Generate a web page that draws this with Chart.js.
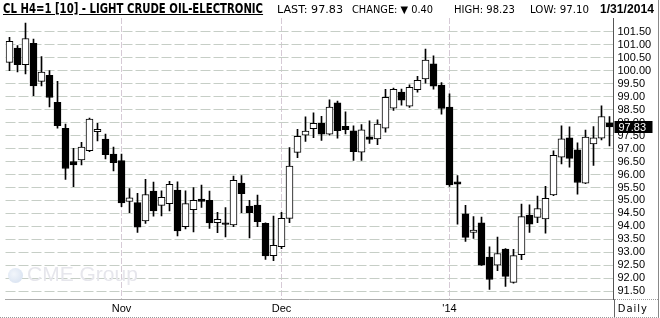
<!DOCTYPE html>
<html>
<head>
<meta charset="utf-8">
<script src="https://cdn.jsdelivr.net/npm/chart.js@4.4.1/dist/chart.umd.min.js"></script>
<style>
  body { margin: 0; background: #fff; }
  #wrap { position: relative; width: 660px; height: 318px; overflow: hidden; font-family: "DejaVu Sans", Verdana, sans-serif; }
  #wrap canvas { position: absolute; left: 0; top: 0; }
  .hd { position: absolute; white-space: nowrap; color: #000; transform-origin: 0 0; }
  .title { left: 3px; top: 0; font: bold 14px/16px "Liberation Sans Narrow", "DejaVu Sans Condensed", Arial, sans-serif; text-decoration: underline; }
  .stat { top: 4px; font-size: 10px; line-height: 12px; }
  .date { left: 600px; top: 2px; font: bold 12px/14px "Liberation Sans", Arial, sans-serif; }
  #frame { position: absolute; left: 0; top: 0; width: 658px; height: 317px; border-right: 1px solid #888; border-bottom: 1px dotted #999; pointer-events: none; }
  #daily { position: absolute; left: 614px; top: 299px; width: 44px; height: 18px; border-left: 1px solid #666; border-top: 1px dotted #999; font-size: 10px; line-height: 18px; text-align: right; letter-spacing: 1px; box-sizing: border-box; }
  #daily span { margin-right: 10px; }
  #wm { position: absolute; left: 27px; top: 262px; color: #e6e6ec; font: 21px/24px "Liberation Sans", Arial, sans-serif; }
  #globe { position: absolute; left: 8px; top: 268px; width: 15px; height: 15px; border-radius: 50%; background: radial-gradient(circle at 40% 40%, #f2f6fb, #d3deef); }
</style>
</head>
<body>
<div id="wrap">
  <canvas id="c" width="660" height="318"></canvas>
  <div id="globe"></div>
  <div id="wm">CME Group</div>
  <span class="hd title" data-w="260">CL H4=1 [10] - LIGHT CRUDE OIL-ELECTRONIC</span>
  <span class="hd stat" style="left:277px" data-w="66">LAST: 97.83</span>
  <span class="hd stat" style="left:352px" data-w="81">CHANGE: ▼ 0.40</span>
  <span class="hd stat" style="left:454px" data-w="61">HIGH: 98.23</span>
  <span class="hd stat" style="left:530px" data-w="59">LOW: 97.10</span>
  <span class="hd date" data-w="54">1/31/2014</span>
  <div id="daily"><span>Daily</span></div>
  <div id="frame"></div>
</div>
<script>
// trading days, Oct 14 2013 - Jan 31 2014
const dates = ['10/14','10/15','10/16','10/17','10/18','10/21','10/22','10/23','10/24','10/25',
  '10/28','10/29','10/30','10/31','11/01','11/04','11/05','11/06','11/07','11/08',
  '11/11','11/12','11/13','11/14','11/15','11/18','11/19','11/20','11/21','11/22',
  '11/25','11/26','11/27','11/29','12/02','12/03','12/04','12/05','12/06','12/09',
  '12/10','12/11','12/12','12/13','12/16','12/17','12/18','12/19','12/20','12/23',
  '12/24','12/26','12/27','12/30','12/31','01/02','01/03','01/06','01/07','01/08',
  '01/09','01/10','01/13','01/14','01/15','01/16','01/17','01/21','01/22','01/23',
  '01/24','01/27','01/28','01/29','01/30','01/31'];

const opens = [100.31,100.86,100.22,101.05,99.58,99.81,98.78,97.78,96.50,96.56,
  96.92,97.65,97.36,96.78,96.53,94.96,94.92,94.21,95.36,94.81,
  94.88,95.40,93.99,94.65,95.05,95.01,94.15,94.14,94.06,95.67,
  94.78,94.82,94.12,92.88,93.22,94.31,96.85,97.51,97.76,97.97,
  97.55,98.76,97.85,97.68,96.86,97.45,97.37,97.78,98.55,99.17,
  98.63,99.26,99.68,100.26,99.44,98.59,95.72,94.49,93.77,94.14,
  92.82,92.51,93.13,91.85,92.91,94.44,94.35,94.29,95.21,96.67,
  97.41,96.95,95.67,97.18,97.40,97.99];
const highs = [101.28,100.96,101.82,101.21,100.54,100.00,99.58,97.94,97.01,97.24,
  98.17,97.97,97.55,97.05,96.78,95.46,95.27,95.81,95.71,95.37,
  95.74,95.72,95.37,95.50,95.59,95.36,94.54,94.73,95.94,95.96,
  95.01,95.21,94.14,94.40,94.54,97.03,97.74,98.22,98.37,98.24,
  98.87,98.82,98.41,97.87,97.92,98.06,98.10,99.28,99.32,99.29,
  99.45,99.78,100.82,100.56,99.54,99.10,95.96,94.81,94.38,94.36,
  93.22,93.59,93.15,93.12,94.86,94.83,95.17,95.54,96.91,97.87,
  97.83,97.22,97.71,97.84,98.64,98.23];
const lows = [99.99,99.95,99.87,99.03,99.41,98.60,97.78,95.81,95.53,96.37,
  96.88,97.29,96.60,96.14,94.76,94.53,93.77,94.12,94.40,94.41,
  94.60,93.64,93.91,93.79,94.73,93.92,93.76,93.60,93.99,94.53,
  93.56,93.99,92.73,92.68,93.15,94.15,96.65,97.27,97.42,97.31,
  97.51,97.40,97.56,96.54,96.54,97.19,97.15,97.63,98.46,98.67,
  98.58,99.17,99.51,99.28,98.32,95.54,94.09,93.42,93.54,92.50,
  91.58,92.30,91.69,91.82,92.72,93.77,94.15,93.74,95.18,96.41,
  96.28,95.24,95.65,96.35,97.33,97.10];
const closes = [101.12,100.22,101.23,99.41,99.94,98.96,97.88,96.23,96.37,97.05,
  98.13,97.74,96.76,96.45,94.91,95.10,93.97,95.23,94.60,95.12,
  95.62,93.83,94.88,95.01,94.96,94.14,94.27,94.08,95.77,95.26,
  94.53,94.18,92.87,93.27,94.31,96.32,97.47,97.67,97.97,97.55,
  98.59,97.69,97.72,96.88,97.72,97.35,97.94,98.97,99.28,98.86,
  99.35,99.62,100.40,99.40,98.54,95.60,95.63,93.58,93.86,92.51,
  91.96,92.96,92.08,92.88,94.38,94.09,94.69,95.08,96.74,97.37,
  96.62,95.69,97.44,97.41,98.23,97.83];

const monthTicks = ['11/01', '12/02', '01/02'];
const monthLabels = ['Nov', 'Dec', "'14"];
const priceTicks = [91.5,92,92.5,93,93.5,94,94.5,95,95.5,96,96.5,97,97.5,98,98.5,99,99.5,100,100.5,101,101.5];
const lastPrice = 97.83;

const bodies = dates.map((d, i) => [opens[i], closes[i]]);
const wicks = dates.map((d, i) => [lows[i], highs[i]]);
const bodyColors = dates.map((d, i) => closes[i] >= opens[i] ? '#fff' : '#000');

const lastBox = {
  id: 'lastBox',
  afterDraw(chart) {
    const y = chart.scales.y;
    const py = Math.round(y.getPixelForValue(lastPrice));
    const ctx = chart.ctx;
    ctx.save();
    ctx.fillStyle = '#000';
    ctx.fillRect(y.left + 1, py - 6, 38, 12);
    ctx.fillStyle = '#fff';
    ctx.font = '11px "Liberation Sans", Arial, sans-serif';
    ctx.textBaseline = 'middle';
    ctx.fillText(lastPrice.toFixed(2), y.left + 5, py + 1);
    ctx.restore();
  }
};

new Chart(document.getElementById('c'), {
  type: 'bar',
  data: {
    labels: dates,
    datasets: [
      {
        data: bodies,
        backgroundColor: bodyColors,
        borderColor: '#000',
        borderWidth: 1,
        borderSkipped: false,
        barThickness: 7,
        grouped: false,
        order: 0
      },
      {
        data: wicks,
        backgroundColor: '#000',
        borderWidth: 0,
        barThickness: 1,
        grouped: false,
        order: 1
      }
    ]
  },
  options: {
    responsive: false,
    animation: false,
    devicePixelRatio: 1,
    layout: { padding: { left: 5.5, top: 18, right: 0, bottom: 0.5 } },
    plugins: { legend: { display: false }, tooltip: { enabled: false } },
    scales: {
      x: {
        offset: true,
        afterFit: s => { s.height = 18; },
        afterBuildTicks: s => { s.ticks = monthTicks.map(m => ({ value: dates.indexOf(m) })); },
        ticks: {
          autoSkip: false,
          maxRotation: 0,
          padding: 3,
          color: '#000',
          font: { family: '"Liberation Sans", Arial, sans-serif', size: 11 },
          callback: (v, i) => monthLabels[i]
        },
        grid: { offset: false, drawTicks: false, color: '#d6cad6' },
        border: { display: true, color: '#aaa', dash: [6, 2] }
      },
      y: {
        position: 'right',
        min: 91.19,
        max: 102.02,
        afterFit: s => { s.width = 46.5; },
        afterBuildTicks: s => { s.ticks = priceTicks.map(v => ({ value: v })); },
        ticks: {
          autoSkip: false,
          padding: 4,
          color: '#000',
          font: { family: '"Liberation Sans", Arial, sans-serif', size: 11 },
          callback: v => Number(v).toFixed(2)
        },
        grid: { drawTicks: false, color: '#c6cec6' },
        border: { display: true, color: '#555', dash: [10, 3] }
      }
    }
  },
  plugins: [lastBox]
});

// squeeze header strings to the widths seen in the original
document.querySelectorAll('[data-w]').forEach(el => {
  const w = el.getBoundingClientRect().width;
  const target = +el.dataset.w;
  if (w > 0) el.style.transform = 'scaleX(' + (target / w).toFixed(3) + ')';
});
</script>
</body>
</html>
